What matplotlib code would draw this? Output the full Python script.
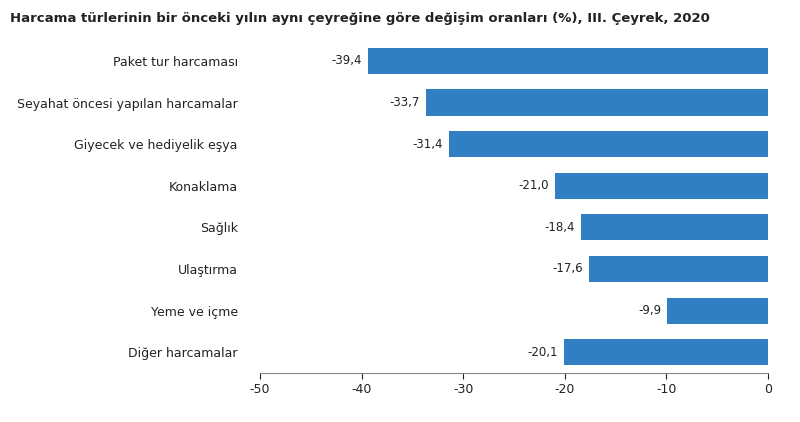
import matplotlib.pyplot as plt

plt.rcParams['axes.unicode_minus'] = False

categories = ["Paket tur harcaması", "Seyahat öncesi yapılan harcamalar", "Giyecek ve hediyelik eşya",
              "Konaklama", "Sağlık", "Ulaştırma", "Yeme ve içme", "Diğer harcamalar"]
values = [-39.4, -33.7, -31.4, -21.0, -18.4, -17.6, -9.9, -20.1]

fig = plt.figure(figsize=(8, 4.22), dpi=100)
ax = fig.add_axes([0.325, 0.116, 0.635, 0.789])
pos = list(range(len(categories)))
ax.barh(pos, values, height=0.63, color="#2f7fc2")
for p, v in zip(pos, values):
    ax.text(v - 0.6, p, f"{v:.1f}".replace(".", ","), ha="right", va="center", fontsize=8.5, color="#222222")
ax.set_yticks(pos)
ax.set_yticklabels(categories, fontsize=9, color="#222222")
ax.invert_yaxis()
ax.set_ylim(7.5, -0.5)
ax.set_xlim(-50, 0)
ax.set_xticks(range(-50, 1, 10))
ax.tick_params(axis="x", labelsize=9, colors="#222222", length=4)
ax.tick_params(axis="y", length=0, pad=16)
for s in ["top", "right", "left"]:
    ax.spines[s].set_visible(False)
ax.spines["bottom"].set_color("#888888")
fig.text(0.012, 0.955, "Harcama türlerinin bir önceki yılın aynı çeyreğine göre değişim oranları (%), III. Çeyrek, 2020",
         fontsize=9.5, fontweight="bold", color="#222222", va="center")
fig.savefig("out.png")
